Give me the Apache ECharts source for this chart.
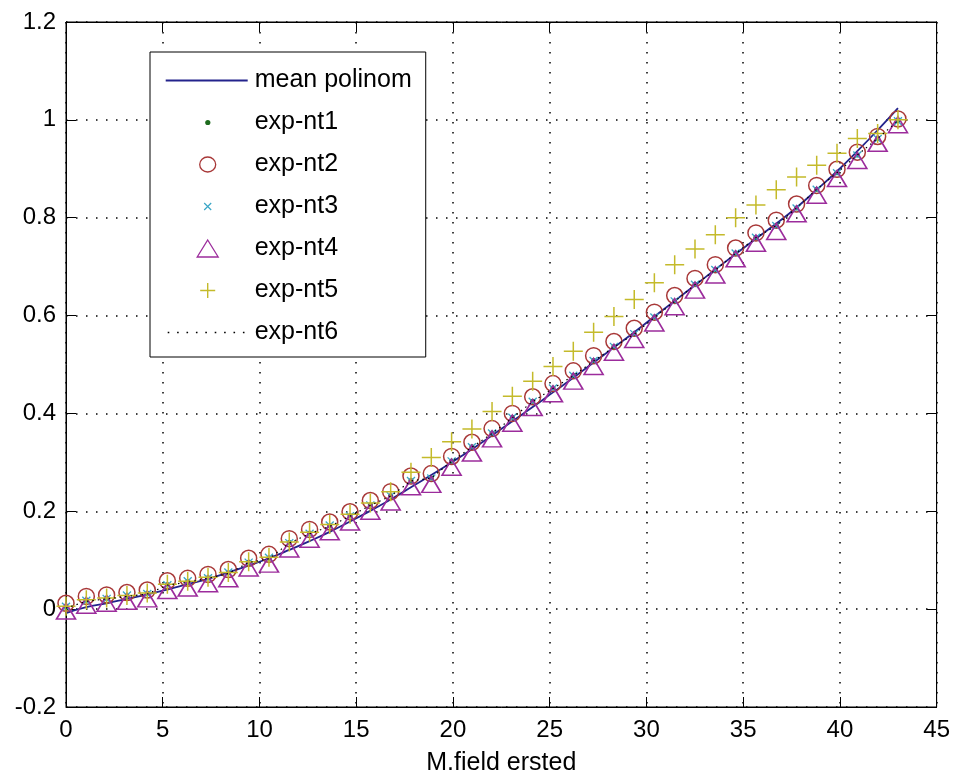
<!DOCTYPE html>
<html>
<head>
<meta charset="utf-8">
<script src="https://cdn.jsdelivr.net/npm/echarts@6/dist/echarts.min.js"></script>
<style>
html,body{margin:0;padding:0;background:#fff;}
#chart{width:953px;height:781px;}
</style>
</head>
<body>
<div id="chart"></div>
<script>
// ---- data ----
const xTicks = [0, 5, 10, 15, 20, 25, 30, 35, 40, 45];
const yTicks = [-0.2, 0, 0.2, 0.4, 0.6, 0.8, 1, 1.2];
const xLabel = 'M.field ersted';
const seriesNames = ['mean polinom', 'exp-nt1', 'exp-nt2', 'exp-nt3', 'exp-nt4', 'exp-nt5', 'exp-nt6'];

const xValues = [0, 1.05, 2.1, 3.15, 4.2, 5.24, 6.29, 7.34, 8.39, 9.44, 10.49, 11.54, 12.59, 13.63,
  14.68, 15.73, 16.78, 17.83, 18.88, 19.93, 20.98, 22.02, 23.07, 24.12, 25.17, 26.22, 27.27, 28.32,
  29.37, 30.41, 31.46, 32.51, 33.56, 34.61, 35.66, 36.71, 37.76, 38.8, 39.85, 40.9, 41.95, 43];

const meanPolinom = [-0.008, 0.004, 0.012, 0.021, 0.030, 0.040, 0.051, 0.062, 0.075, 0.089, 0.104, 0.121,
  0.139, 0.158, 0.179, 0.201, 0.224, 0.249, 0.274, 0.300, 0.327, 0.355, 0.384, 0.413, 0.443, 0.473,
  0.504, 0.535, 0.566, 0.598, 0.630, 0.662, 0.694, 0.726, 0.757, 0.788, 0.821, 0.857, 0.895, 0.936,
  0.979, 1.024];

const expNt1 = [0.004, 0.018, 0.022, 0.027, 0.032, 0.050, 0.056, 0.064, 0.074, 0.096, 0.104, 0.136,
  0.155, 0.170, 0.191, 0.213, 0.232, 0.263, 0.268, 0.303, 0.332, 0.360, 0.392, 0.425, 0.452, 0.478,
  0.508, 0.537, 0.563, 0.597, 0.630, 0.664, 0.694, 0.728, 0.760, 0.784, 0.820, 0.858, 0.892, 0.928,
  0.962, 0.998];

const expNt2 = [0.012, 0.026, 0.029, 0.034, 0.039, 0.058, 0.063, 0.071, 0.081, 0.104, 0.112, 0.144,
  0.163, 0.178, 0.199, 0.222, 0.240, 0.272, 0.277, 0.312, 0.341, 0.369, 0.400, 0.434, 0.461, 0.487,
  0.518, 0.547, 0.574, 0.607, 0.641, 0.676, 0.704, 0.738, 0.769, 0.795, 0.828, 0.866, 0.899, 0.934,
  0.966, 1.002];

const expNt3 = [0.005, 0.017, 0.021, 0.028, 0.031, 0.049, 0.057, 0.063, 0.075, 0.095, 0.105, 0.135,
  0.154, 0.171, 0.190, 0.212, 0.231, 0.262, 0.267, 0.302, 0.331, 0.359, 0.391, 0.424, 0.451, 0.477,
  0.507, 0.536, 0.562, 0.596, 0.629, 0.663, 0.693, 0.727, 0.759, 0.783, 0.819, 0.857, 0.891, 0.927,
  0.961, 0.997];

const expNt4 = [-0.004, 0.008, 0.012, 0.016, 0.021, 0.038, 0.043, 0.052, 0.062, 0.084, 0.092, 0.123,
  0.143, 0.158, 0.178, 0.200, 0.219, 0.250, 0.255, 0.290, 0.319, 0.348, 0.380, 0.412, 0.440, 0.466,
  0.496, 0.525, 0.551, 0.585, 0.618, 0.652, 0.683, 0.716, 0.748, 0.772, 0.808, 0.846, 0.880, 0.917,
  0.952, 0.990];

const expNt5 = [0.006, 0.019, 0.023, 0.028, 0.033, 0.051, 0.057, 0.065, 0.075, 0.097, 0.106, 0.137,
  0.157, 0.173, 0.194, 0.217, 0.240, 0.280, 0.310, 0.342, 0.368, 0.404, 0.435, 0.466, 0.496, 0.527,
  0.566, 0.598, 0.633, 0.667, 0.704, 0.736, 0.765, 0.800, 0.826, 0.857, 0.883, 0.907, 0.932, 0.962,
  0.972, 1.000];

const expNt6 = [0.002, 0.016, 0.021, 0.026, 0.031, 0.049, 0.055, 0.063, 0.073, 0.095, 0.103, 0.135,
  0.154, 0.169, 0.190, 0.212, 0.231, 0.262, 0.268, 0.302, 0.331, 0.359, 0.391, 0.424, 0.451, 0.477,
  0.507, 0.536, 0.562, 0.596, 0.629, 0.663, 0.693, 0.727, 0.759, 0.784, 0.820, 0.858, 0.892, 0.928,
  0.962, 0.998];

// ---- styling ----
const FONT = '"Liberation Sans", Arial, Helvetica, sans-serif';
const C_MEAN = '#23238c';
const C_NT1 = '#1d6b1d';
const C_NT2 = '#a83838';
const C_NT3 = '#3aa6c6';
const C_NT4 = '#9c2c9c';
const C_NT5 = '#c4ba2a';
const C_NT6 = '#000000';

const pairs = ys => xValues.map((x, i) => [x, ys[i]]);

const SYM_CIRCLE = 'path://M0 10a10 10 0 1 0 20 0a10 10 0 1 0 -20 0z';
const SYM_TRI = 'path://M10 0L20 17.3L0 17.3Z';
const SYM_PLUS = 'path://M0 10L20 10M10 0L10 20';
const SYM_X = 'path://M0 0L20 20M20 0L0 20';

// legend icons, drawn in an 84 x 20 box (the two leading moves fix the box)
const BOX = 'path://M0 0M84 20';
let dots = '';
for (let k = 0; k < 9; k++) { const px = 2 + k * 9.4; dots += 'M' + px + ' 9.2h1.6v1.6h-1.6z'; }
const legendIcons = [
  BOX + 'M0 9.1h82v1.8h-82z',
  BOX + 'M39.5 10a2.6 2.6 0 1 0 5.2 0a2.6 2.6 0 1 0 -5.2 0z',
  BOX + 'M34 10a8 7.5 0 1 0 16 0a8 7.5 0 1 0 -16 0z',
  BOX + 'M38.5 6.5L45.5 13.5M45.5 6.5L38.5 13.5',
  BOX + 'M42 1.5L52.5 18.5L31.5 18.5Z',
  BOX + 'M34.5 10H49.5M42 2.5V17.5',
  BOX + dots
];
const legendStyles = [
  { color: C_MEAN, borderWidth: 0 },
  { color: C_NT1, borderWidth: 0 },
  { color: 'rgba(0,0,0,0)', borderColor: C_NT2, borderWidth: 1.3 },
  { color: 'rgba(0,0,0,0)', borderColor: C_NT3, borderWidth: 1.2 },
  { color: 'rgba(0,0,0,0)', borderColor: C_NT4, borderWidth: 1.3 },
  { color: 'rgba(0,0,0,0)', borderColor: C_NT5, borderWidth: 1.4 },
  { color: C_NT6, borderWidth: 0 }
];

const chart = echarts.init(document.getElementById('chart'), null, { renderer: 'canvas' });

const xMin = xTicks[0], xMax = xTicks[xTicks.length - 1], xInt = xTicks[1] - xTicks[0];
const yMin = yTicks[0], yMax = yTicks[yTicks.length - 1], yInt = 0.2;

const baseAxis = {
  type: 'value',
  axisLine: { show: true, onZero: false, lineStyle: { color: '#000', width: 1 } },
  axisTick: { show: true, inside: true, length: 10, lineStyle: { color: '#000', width: 1 } },
  splitLine: { show: false },
  axisLabel: { show: false }
};

const option = {
  animation: false,
  backgroundColor: '#fff',
  grid: { left: 66, right: 16, top: 22, bottom: 72, show: true, borderColor: '#000', borderWidth: 1, backgroundColor: '#fff' },
  xAxis: [
    Object.assign({}, baseAxis, {
      position: 'bottom', min: xMin, max: xMax, interval: xInt,
      axisLabel: { show: true, color: '#000', fontSize: 24, fontFamily: FONT, margin: 11 },
      splitLine: { show: true, lineStyle: { color: '#000', width: 1.5, type: [1.5, 8.5] } },
      name: xLabel, nameLocation: 'middle', nameGap: 44,
      nameTextStyle: { color: '#000', fontSize: 25, fontFamily: FONT }
    }),
    Object.assign({}, baseAxis, { position: 'top', min: xMin, max: xMax, interval: xInt })
  ],
  yAxis: [
    Object.assign({}, baseAxis, {
      position: 'left', min: yMin, max: yMax, interval: yInt,
      axisLabel: { show: true, color: '#000', fontSize: 24, fontFamily: FONT, margin: 10 },
      splitLine: { show: true, lineStyle: { color: '#000', width: 1.5, type: [1.5, 8.5] } }
    }),
    Object.assign({}, baseAxis, { position: 'right', min: yMin, max: yMax, interval: yInt })
  ],
  legend: {
    orient: 'vertical', left: 150, top: 52,
    itemWidth: 84, itemHeight: 20, itemGap: 17,
    padding: [16, 14, 12, 15],
    backgroundColor: '#fff', borderColor: '#000', borderWidth: 1,
    selectedMode: false,
    textStyle: { color: '#000', fontSize: 25, fontFamily: FONT },
    data: seriesNames.map((n, i) => ({ name: n, icon: legendIcons[i], itemStyle: legendStyles[i] }))
  },
  series: [
    { name: seriesNames[0], type: 'line', data: pairs(meanPolinom), symbol: 'none', smooth: true,
      lineStyle: { color: C_MEAN, width: 1.8 }, itemStyle: { color: C_MEAN }, z: 2 },
    { name: seriesNames[1], type: 'scatter', data: pairs(expNt1), symbol: 'circle', symbolSize: 5,
      itemStyle: { color: C_NT1, opacity: 1 }, z: 3 },
    { name: seriesNames[2], type: 'scatter', data: pairs(expNt2), symbol: SYM_CIRCLE, symbolSize: 16,
      itemStyle: { color: 'rgba(0,0,0,0)', borderColor: C_NT2, borderWidth: 1.5, opacity: 1 }, z: 3 },
    { name: seriesNames[3], type: 'scatter', data: pairs(expNt3), symbol: SYM_X, symbolSize: 8,
      itemStyle: { color: 'rgba(0,0,0,0)', borderColor: C_NT3, borderWidth: 1.3, opacity: 1 }, z: 3 },
    { name: seriesNames[4], type: 'scatter', data: pairs(expNt4), symbol: SYM_TRI, symbolSize: [19, 16],
      itemStyle: { color: 'rgba(0,0,0,0)', borderColor: C_NT4, borderWidth: 1.6, opacity: 1 }, z: 3 },
    { name: seriesNames[5], type: 'scatter', data: pairs(expNt5), symbol: SYM_PLUS, symbolSize: 19,
      itemStyle: { color: 'rgba(0,0,0,0)', borderColor: C_NT5, borderWidth: 1.5, opacity: 1 }, z: 3 },
    { name: seriesNames[6], type: 'line', data: pairs(expNt6), symbol: 'none',
      lineStyle: { color: C_NT6, width: 1.2, type: [1.5, 4] }, itemStyle: { color: C_NT6 }, z: 4 }
  ]
};

chart.setOption(option);
</script>
</body>
</html>
